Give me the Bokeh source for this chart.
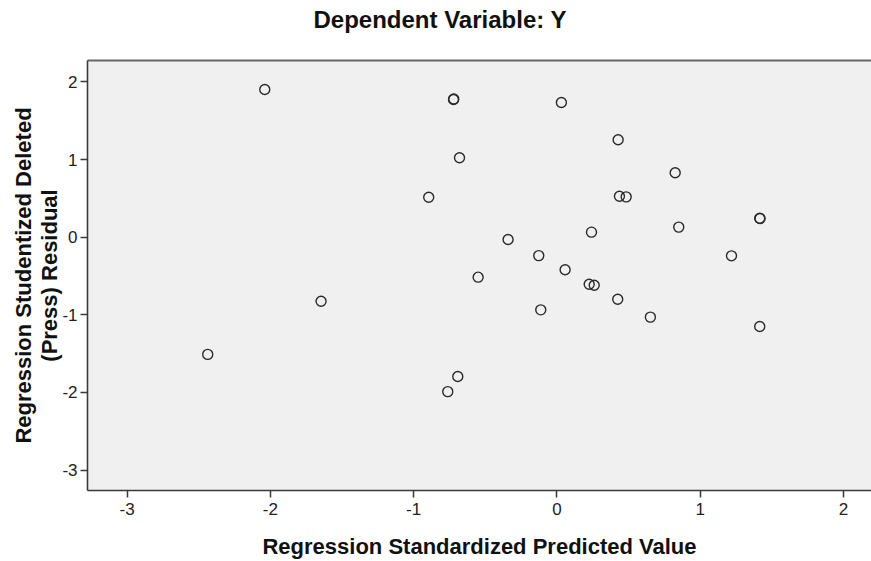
from bokeh.plotting import figure
from bokeh.models import Range1d, LinearAxis, FixedTicker, ColumnDataSource, PrintfTickFormatter
from bokeh.embed import file_html
from bokeh.resources import INLINE

pred_value = [-2.039, -0.722, -0.720, 0.031, 0.427, -0.680, 0.825, -0.895,
              0.436, 0.483, 1.415, 1.417, 0.241, 0.850, -0.341, -0.127,
              1.218, -0.550, 0.057, 0.225, 0.260, 0.424, -0.113, 0.652,
              1.415, -1.646, -2.437, -0.692, -0.762]
resid_value = [1.903, 1.774, 1.780, 1.736, 1.255, 1.023, 0.830, 0.515,
               0.528, 0.520, 0.245, 0.240, 0.065, 0.130, -0.030, -0.237,
               -0.240, -0.515, -0.420, -0.606, -0.620, -0.800, -0.936, -1.030,
               -1.150, -0.825, -1.510, -1.795, -1.990]
x_ticks = [-3, -2, -1, 0, 1, 2]
y_ticks = [-3, -2, -1, 0, 1, 2]

title_text = "Dependent Variable: Y"
x_label = "Regression Standardized Predicted Value"
y_label = "Regression Studentized Deleted\n(Press) Residual"

FONT = "Liberation Sans"
AXIS_COLOR = "#3a3a3a"

# the trailing empty line lifts the title away from the frame
p = figure(width=871, height=561, output_backend="svg", toolbar_location=None,
           x_range=Range1d(-3.276, 2.195), y_range=Range1d(-3.264, 2.277),
           min_border_left=87, min_border_right=0, min_border_top=60,
           min_border_bottom=71, title=title_text + "\n")

p.background_fill_color = "#f0f0f0"
p.border_fill_color = "white"
p.outline_line_color = None
p.grid.visible = False

p.title.text_font = FONT
p.title.text_font_size = "24px"
p.title.text_font_style = "bold"
p.title.text_color = "#111111"
p.title.text_line_height = 1.0
p.title.align = "left"
p.title.offset = 226
p.title.standoff = 2

for ax, ticks in ((p.xaxis[0], x_ticks), (p.yaxis[0], y_ticks)):
    ax.ticker = FixedTicker(ticks=ticks)
    ax.formatter = PrintfTickFormatter(format="%d")
    ax.axis_line_color = AXIS_COLOR
    ax.axis_line_width = 1.6
    ax.major_tick_line_color = AXIS_COLOR
    ax.major_tick_line_width = 1.5
    ax.major_tick_out = 7
    ax.major_tick_in = 0
    ax.minor_tick_line_color = None
    ax.major_label_text_font = FONT
    ax.major_label_text_font_size = "17px"
    ax.major_label_text_color = "#222222"
    ax.axis_label_text_font = FONT
    ax.axis_label_text_font_size = "22px"
    ax.axis_label_text_font_style = "bold"
    ax.axis_label_text_color = "#111111"

p.xaxis[0].axis_label = x_label
p.xaxis[0].major_label_standoff = 5
p.xaxis[0].axis_label_standoff = 16
p.yaxis[0].axis_label = y_label
p.yaxis[0].major_label_standoff = 3
p.yaxis[0].axis_label_standoff = -3
p.yaxis[0].axis_label_text_line_height = 1.05

# top border of the frame (no ticks, no labels)
top_axis = LinearAxis(ticker=FixedTicker(ticks=[]), axis_line_color="#666666",
                      axis_line_width=2, major_tick_line_color=None,
                      minor_tick_line_color=None, major_label_text_font_size="0px")
p.add_layout(top_axis, "above")

src = ColumnDataSource(data=dict(x=pred_value, y=resid_value))
p.scatter("x", "y", source=src, marker="circle", size=10, fill_color=None,
          line_color="#2a2a2a", line_width=1.4)

open("out.html", "w").write(file_html(p, INLINE))
